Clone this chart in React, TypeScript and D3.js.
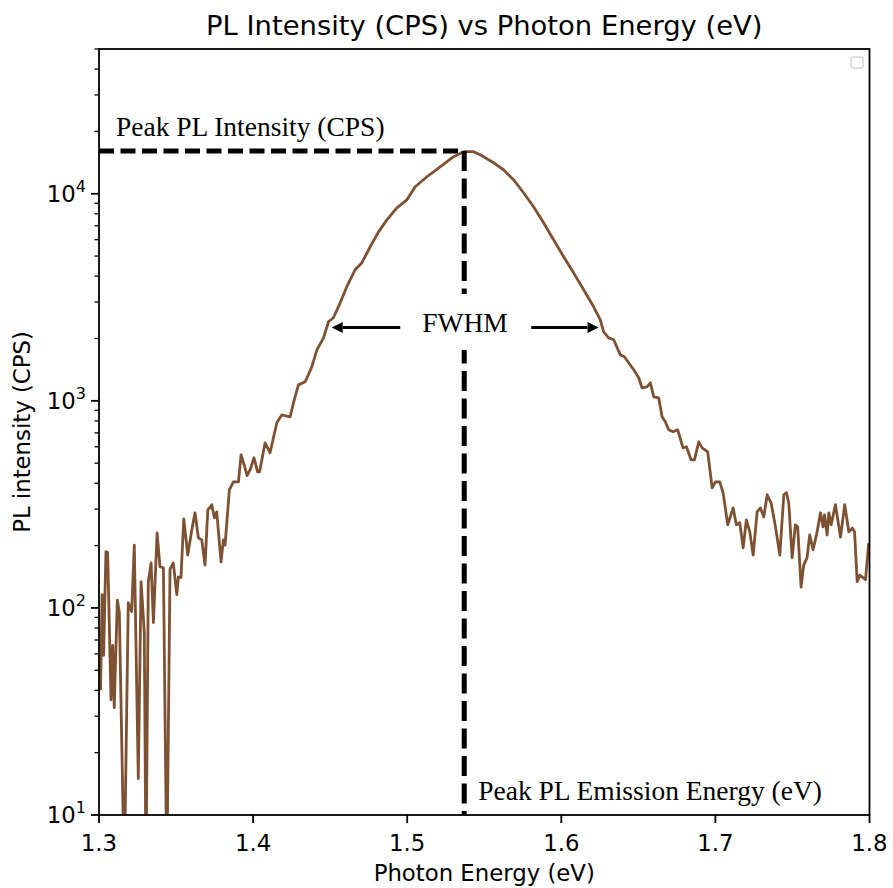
import React from "react";
import * as d3 from "d3";

// Photon energy (eV) and PL intensity (CPS)
const energy = [
  1.301, 1.302, 1.303, 1.3045, 1.3056, 1.3078, 1.3089, 1.3099, 1.3119, 1.3132,
  1.3164, 1.319, 1.3212, 1.3229, 1.3255, 1.3273, 1.3294, 1.3305, 1.332, 1.3338,
  1.3353, 1.3377, 1.3396, 1.3418, 1.344, 1.3461, 1.3482, 1.3505, 1.3515, 1.3532,
  1.355, 1.3576, 1.3602, 1.3623, 1.3645, 1.3667, 1.3688, 1.3706, 1.3732, 1.3749,
  1.3764, 1.3792, 1.3807, 1.3818, 1.3846, 1.3872, 1.3905, 1.3922, 1.3942, 1.3961,
  1.3981, 1.4006, 1.4029, 1.4042, 1.4078, 1.411, 1.4154, 1.4186, 1.424, 1.4262,
  1.4294, 1.4338, 1.4381, 1.4414, 1.4457, 1.4489, 1.4521, 1.4565, 1.4608, 1.4662,
  1.4706, 1.476, 1.4814, 1.4868, 1.4933, 1.4998, 1.5052, 1.5128, 1.5214, 1.5301,
  1.5366, 1.543, 1.5474, 1.556, 1.5625, 1.569, 1.5755, 1.582, 1.5885, 1.595,
  1.6015, 1.608, 1.6145, 1.621, 1.6253, 1.6275, 1.6307, 1.634, 1.6383, 1.6409,
  1.6437, 1.647, 1.6502, 1.6524, 1.6556, 1.6578, 1.66, 1.6632, 1.6654, 1.6675,
  1.6697, 1.6725, 1.6755, 1.679, 1.6812, 1.6842, 1.6864, 1.6892, 1.6914, 1.695,
  1.6979, 1.7, 1.7028, 1.705, 1.708, 1.7115, 1.7136, 1.7158, 1.718, 1.7201,
  1.7223, 1.7245, 1.7271, 1.7292, 1.7314, 1.7336, 1.7362, 1.739, 1.7418, 1.7444,
  1.7461, 1.7476, 1.7498, 1.7519, 1.7534, 1.7556, 1.7573, 1.7595, 1.7612, 1.7634,
  1.766, 1.7682, 1.7699, 1.7708, 1.7725, 1.7736, 1.7751, 1.7779, 1.7812, 1.7839,
  1.7866, 1.7888, 1.7903, 1.792, 1.7937, 1.7974, 1.7995,
];
const intensity = [
  40, 116, 59, 187, 185, 36, 66, 33, 109, 95,
  5, 106, 96, 201, 15, 134, 76, 5, 134, 165,
  85, 230, 158, 156, 5, 154, 165, 116, 141, 140,
  269, 180, 238, 288, 218, 213, 161, 297, 315, 272,
  291, 167, 213, 201, 372, 406, 406, 548, 491, 435,
  465, 531, 454, 454, 627, 561, 784, 855, 837, 978,
  1194, 1236, 1459, 1762, 2014, 2410, 2518, 2972, 3556, 4295,
  4645, 5546, 6546, 7480, 8550, 9350, 10810, 12080, 13490, 15100,
  15960, 15960, 15420, 14120, 13060, 11690, 10110, 8650, 7240, 5995,
  4966, 4150, 3436, 2844, 2461, 2153, 2014, 1972, 1667, 1633,
  1528, 1413, 1292, 1156, 1168, 1222, 1045, 1033, 837, 792,
  725, 709, 725, 593, 600, 519, 519, 634, 593, 567,
  380, 406, 406, 360, 252, 304, 252, 258, 195, 266,
  233, 180, 291, 304, 275, 352, 321, 246, 180, 352,
  360, 321, 175, 252, 246, 126, 161, 175, 225, 191,
  233, 288, 246, 281, 225, 288, 252, 315, 220, 315,
  233, 243, 233, 134, 144, 137, 206,
];

const xTicks = [1.3, 1.4, 1.5, 1.6, 1.7, 1.8];
const yMajorExp = [1, 2, 3, 4];

// Annotation anchors (data coordinates)
const peakEnergy = 1.537;
const peakIntensity = 16100;
const fwhmLevel = 2260;
const fwhmLeftArrow = [1.4955, 1.451]; // tail, tip
const fwhmRightArrow = [1.5805, 1.6242]; // tail, tip
const fwhmLabel = { e: 1.5375, i: 2150, text: "FWHM" };
const peakIntensityLabel = { e: 1.311, i: 19050, text: "Peak PL Intensity (CPS)" };
const peakEnergyLabel = { e: 1.5461, i: 11.8, text: "Peak PL Emission Energy (eV)" };

const W = 893;
const H = 888;
const L = 99;
const R = 869.5;
const T = 49;
const B = 815;

export default function App() {
  const x = d3.scaleLinear().domain([1.3, 1.8]).range([L, R]);
  const y = d3.scaleLog().domain([10, 50000]).range([B, T]);

  const pts = energy.map((e, i) => [e, intensity[i]] as [number, number]);
  const line = d3
    .line<[number, number]>()
    .x((d) => x(d[0]))
    .y((d) => y(d[1]));

  const minor: number[] = [];
  yMajorExp.forEach((p) => {
    for (let k = 2; k <= 9; k++) {
      const v = k * Math.pow(10, p);
      if (v <= 50000) minor.push(v);
    }
  });

  const sans = "DejaVu Sans";
  const serif = "Liberation Serif";
  const curveColor = "#7f5133";

  const arrow = (tail: number, tip: number, key: string) => {
    const yy = y(fwhmLevel);
    const x0 = x(tail);
    const x1 = x(tip);
    const dir = Math.sign(x1 - x0);
    const hl = 11;
    const hw = 5.5;
    return (
      <g key={key}>
        <line x1={x0} y1={yy} x2={x1 - dir * hl} y2={yy} stroke="#000" strokeWidth={3} />
        <path
          d={`M${x1},${yy} L${x1 - dir * hl},${yy - hw} L${x1 - dir * hl},${yy + hw} Z`}
          fill="#000"
        />
      </g>
    );
  };

  return (
    <svg width={W} height={H} style={{ display: "block", position: "absolute", left: 0, top: 0 }}>
      <rect x={0} y={0} width={W} height={H} fill="#fff" />
      <defs>
        <clipPath id="plotclip">
          <rect x={L} y={T} width={R - L} height={B - T} />
        </clipPath>
      </defs>

      {/* curve */}
      <g clipPath="url(#plotclip)">
        <path d={line(pts) || ""} fill="none" stroke={curveColor} strokeWidth={2.8} strokeLinejoin="round" />
      </g>

      {/* dashed guide lines */}
      <line
        x1={L}
        y1={y(peakIntensity)}
        x2={x(peakEnergy)}
        y2={y(peakIntensity)}
        stroke="#000"
        strokeWidth={5}
        strokeDasharray="15 6.5"
      />
      <line
        x1={x(peakEnergy)}
        y1={y(peakIntensity)}
        x2={x(peakEnergy)}
        y2={B}
        stroke="#000"
        strokeWidth={5}
        strokeDasharray="20 7.5"
      />

      {/* FWHM label with white box */}
      <rect x={x(fwhmLabel.e) - 52} y={y(fwhmLabel.i) - 38} width={104} height={56} fill="#fff" />
      <text
        x={x(fwhmLabel.e)}
        y={y(fwhmLabel.i)}
        textAnchor="middle"
        fontFamily={serif}
        fontSize={27.5}
        fill="#000"
      >
        {fwhmLabel.text}
      </text>
      {arrow(fwhmLeftArrow[0], fwhmLeftArrow[1], "la")}
      {arrow(fwhmRightArrow[0], fwhmRightArrow[1], "ra")}

      <text x={x(peakIntensityLabel.e)} y={y(peakIntensityLabel.i)} fontFamily={serif} fontSize={27.5} fill="#000">
        {peakIntensityLabel.text}
      </text>
      <text x={x(peakEnergyLabel.e)} y={y(peakEnergyLabel.i)} fontFamily={serif} fontSize={27.5} fill="#000">
        {peakEnergyLabel.text}
      </text>

      {/* frame */}
      <rect x={L} y={T} width={R - L} height={B - T} fill="none" stroke="#000" strokeWidth={1.8} />

      {/* empty legend */}
      <rect x={851} y={57} width={12} height={11} rx={2.5} fill="#fff" stroke="#d6d6d6" strokeWidth={1.6} />

      {/* x ticks */}
      {xTicks.map((t) => (
        <g key={"x" + t}>
          <line x1={x(t)} x2={x(t)} y1={B} y2={B + 8} stroke="#000" strokeWidth={1.8} />
          <text x={x(t)} y={B + 36} textAnchor="middle" fontFamily={sans} fontSize={22.8} fill="#000">
            {d3.format(".1f")(t)}
          </text>
        </g>
      ))}

      {/* y ticks */}
      {minor.map((v) => (
        <line key={"m" + v} x1={L - 4.5} x2={L} y1={y(v)} y2={y(v)} stroke="#000" strokeWidth={1.3} />
      ))}
      {yMajorExp.map((p) => (
        <g key={"y" + p}>
          <line x1={L - 8} x2={L} y1={y(Math.pow(10, p))} y2={y(Math.pow(10, p))} stroke="#000" strokeWidth={1.8} />
          <text x={L - 13} y={y(Math.pow(10, p)) + 8} textAnchor="end" fontFamily={sans} fontSize={22.8} fill="#000">
            10
            <tspan fontSize={16} dy={-10}>
              {p}
            </tspan>
          </text>
        </g>
      ))}

      {/* labels */}
      <text x={(L + R) / 2} y={881} textAnchor="middle" fontFamily={sans} fontSize={22.8} fill="#000">
        Photon Energy (eV)
      </text>
      <text
        transform={`translate(30,${(T + B) / 2}) rotate(-90)`}
        textAnchor="middle"
        fontFamily={sans}
        fontSize={22.8}
        fill="#000"
      >
        PL intensity (CPS)
      </text>
      <text x={(L + R) / 2} y={35} textAnchor="middle" fontFamily={sans} fontSize={27.4} fill="#000">
        PL Intensity (CPS) vs Photon Energy (eV)
      </text>
    </svg>
  );
}
